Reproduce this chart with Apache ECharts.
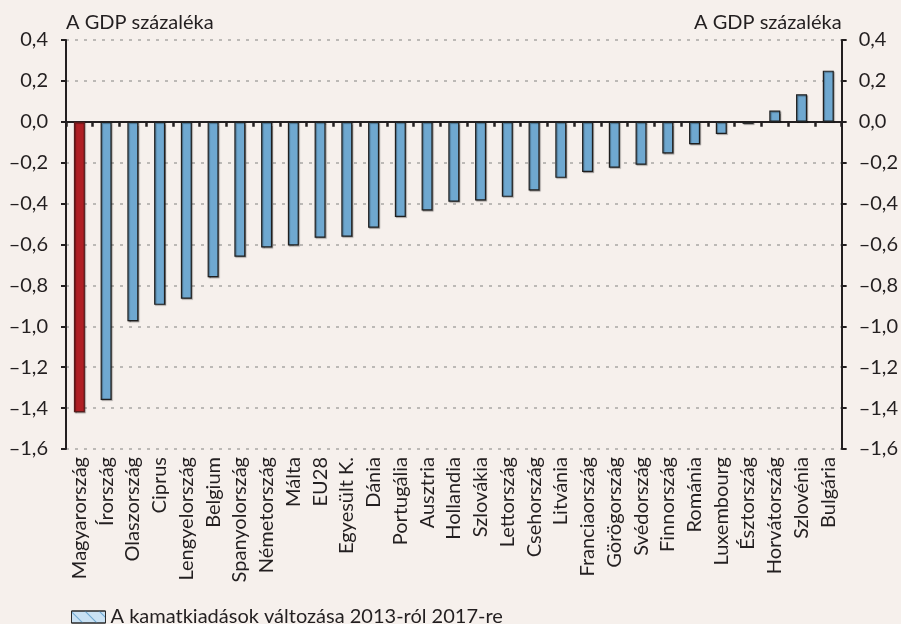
<!DOCTYPE html>
<html>
<head>
<meta charset="utf-8">
<script src="https://cdn.jsdelivr.net/npm/echarts@6/dist/echarts.min.js"></script>
<style>
html,body{margin:0;padding:0;background:#f6f0ec;}
#chart{width:901px;height:624px;}
</style>
</head>
<body>
<div id="chart"></div>
<script>
var categories = ['Magyarország','Írország','Olaszország','Ciprus','Lengyelország','Belgium','Spanyolország','Németország','Málta','EU28','Egyesült K.','Dánia','Portugália','Ausztria','Hollandia','Szlovákia','Lettország','Csehország','Litvánia','Franciaország','Görögország','Svédország','Finnország','Románia','Luxembourg','Észtország','Horvátország','Szlovénia','Bulgária'];
var values = [-1.42,-1.36,-0.975,-0.895,-0.865,-0.76,-0.66,-0.615,-0.605,-0.567,-0.562,-0.518,-0.465,-0.434,-0.391,-0.385,-0.367,-0.336,-0.274,-0.245,-0.225,-0.21,-0.155,-0.11,-0.06,-0.01,0.055,0.135,0.25];
var highlighted = ['Magyarország'];
var seriesName = 'A kamatkiadások változása 2013-ról 2017-re';
var axisTitle = 'A GDP százaléka';
var yMin = -1.6, yMax = 0.4, yStep = 0.2;

var FONT = 'Lato';
var TXT = '#231f20';
function fmt(v){
  var s = Math.abs(v).toFixed(1).replace('.', ',');
  return (v < -1e-9 ? '–' : '') + s;
}
var barData = categories.map(function(c, i){
  var red = highlighted.indexOf(c) >= 0;
  return {
    value: values[i],
    itemStyle: red ? {color:'#b01f24', borderColor:'#5a1a1a'} : {color:'#6fa8d0', borderColor:'#1f1f1f'}
  };
});

var chart = echarts.init(document.getElementById('chart'));
var yAxisCommon = {
  type:'value', min:yMin, max:yMax, interval:yStep,
  axisLine:{show:true, lineStyle:{color:TXT, width:2}},
  axisTick:{show:true, length:5, lineStyle:{color:TXT, width:2}},
  axisLabel:{formatter:fmt, color:TXT, fontFamily:FONT, fontSize:20, margin:18},
  name: axisTitle,
  nameLocation:'end',
  nameGap: 7,
  nameTextStyle:{color:TXT, fontFamily:FONT, fontSize:20, padding:[0,0,0,0]}
};
chart.setOption({
  backgroundColor:'#f6f0ec',
  animation:false,
  grid:{left:66, right:56, top:40, bottom:175, containLabel:false},
  legend:{
    data:[{name:seriesName}],
    left:66, top:602,
    itemWidth:34, itemHeight:12,
    icon:'rect',
    itemGap:10,
    textStyle:{color:TXT, fontFamily:FONT, fontSize:20},
    itemStyle:{color:'#c9e1f3', borderColor:'#2a2a2a', borderWidth:1,
      decal:{symbol:'rect', dashArrayX:[1,0], dashArrayY:[1,9], rotation:Math.PI/4, color:'#6fa8d0'}}
  },
  xAxis:[{
    type:'category', data:categories, position:'bottom',
    axisLine:{show:false, onZero:false},
    axisTick:{show:false},
    axisLabel:{rotate:90, interval:0, color:TXT, fontFamily:FONT, fontSize:20, margin:8}
  },{
    type:'category', data:categories, position:'bottom',
    axisLine:{show:true, onZero:true, lineStyle:{color:TXT, width:2}},
    axisTick:{show:true, interval:0, length:5, lineStyle:{color:TXT, width:2.5}},
    axisLabel:{show:false, interval:0}
  }],
  yAxis:[
    Object.assign({}, yAxisCommon, {
      position:'left',
      nameTextStyle:Object.assign({}, yAxisCommon.nameTextStyle, {align:'left'}),
      splitLine:{show:true, lineStyle:{color:'#a9a6a4', width:1.5, type:[3,6]}}
    }),
    Object.assign({}, yAxisCommon, {
      position:'right',
      axisLabel:Object.assign({}, yAxisCommon.axisLabel, {margin:17}),
      nameTextStyle:Object.assign({}, yAxisCommon.nameTextStyle, {align:'right'}),
      splitLine:{show:false}
    })
  ],
  series:[{
    name:seriesName, type:'bar', data:barData,
    xAxisIndex:0, yAxisIndex:0,
    barWidth:11,
    itemStyle:{borderWidth:1.2, shadowColor:'rgba(0,0,0,0.35)', shadowOffsetX:1, shadowOffsetY:1, shadowBlur:1}
  }]
});
</script>
</body>
</html>
